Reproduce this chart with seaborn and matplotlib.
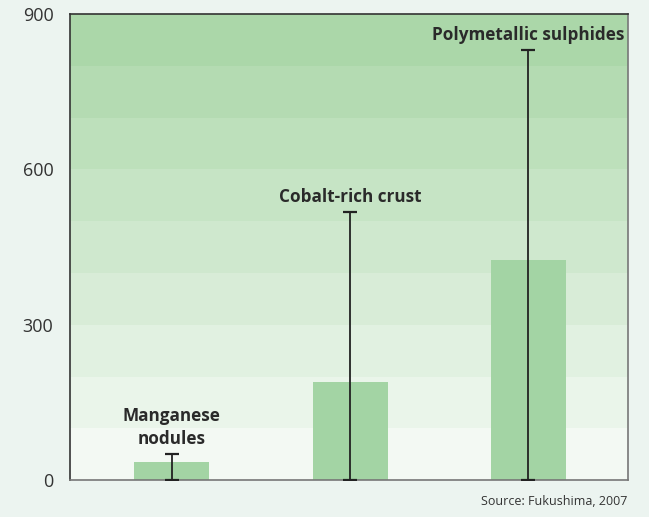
import matplotlib
matplotlib.use("Agg")
import matplotlib.pyplot as plt
import numpy as np
import pandas as pd
import seaborn as sns

# data
deposits = ["Manganese nodules", "Cobalt-rich crust", "Polymetallic sulphides"]
labels = ["Manganese\nnodules", "Cobalt-rich crust", "Polymetallic sulphides"]
values = [35, 189, 425]
range_low = [0, 0, 0]
range_high = [50, 517, 830]
yticks = [0, 300, 600, 900]

df = pd.DataFrame({"deposit": deposits, "value": values})

sns.set_theme(style="white")
plt.rcParams["font.family"] = ["Open Sans", "DejaVu Sans"]

bg = "#ecf4f0"
fig, ax = plt.subplots(figsize=(6.49, 5.17), dpi=100)
fig.patch.set_facecolor(bg)
fig.subplots_adjust(left=0.108, right=0.968, top=0.973, bottom=0.071)

# banded background, darker towards the top
light = np.array([243, 249, 243]) / 255
dark = np.array([171, 215, 169]) / 255
for i in range(9):
    t = i / 8
    ax.axhspan(i * 100, (i + 1) * 100, color=light + (dark - light) * t,
               lw=0, zorder=0)

sns.barplot(data=df, x="deposit", y="value", color="#a3d4a4", width=0.42,
            saturation=1, linewidth=0, ax=ax, zorder=2)

xs = np.arange(len(deposits))
ax.errorbar(xs, values,
            yerr=[np.array(values) - np.array(range_low),
                  np.array(range_high) - np.array(values)],
            fmt="none", ecolor="#222222", elinewidth=1.3, capsize=5,
            capthick=1.6, zorder=3)

for x, top, lab in zip(xs, range_high, labels):
    ax.text(x, top + 12, lab, ha="center", va="bottom", fontsize=12.3,
            fontweight="bold", color="#2a2a2a", linespacing=1.35, zorder=4)

ax.set_xlim(-0.57, 2.56)
ax.set_ylim(0, 900)
ax.set_yticks(yticks)
ax.set_xticks([])
ax.set_xlabel("")
ax.set_ylabel("")
ax.tick_params(axis="y", labelsize=13, colors="#333333", length=0, pad=12)

for side in ["left", "top"]:
    ax.spines[side].set_color("#333333")
    ax.spines[side].set_linewidth(1.2)
for side in ["right", "bottom"]:
    ax.spines[side].set_color("#777777")
    ax.spines[side].set_linewidth(1.2)

fig.text(0.966, 0.03, "Source: Fukushima, 2007", ha="right", va="center",
         fontsize=9, color="#333333")

fig.savefig("out.png", dpi=100, facecolor=bg)
